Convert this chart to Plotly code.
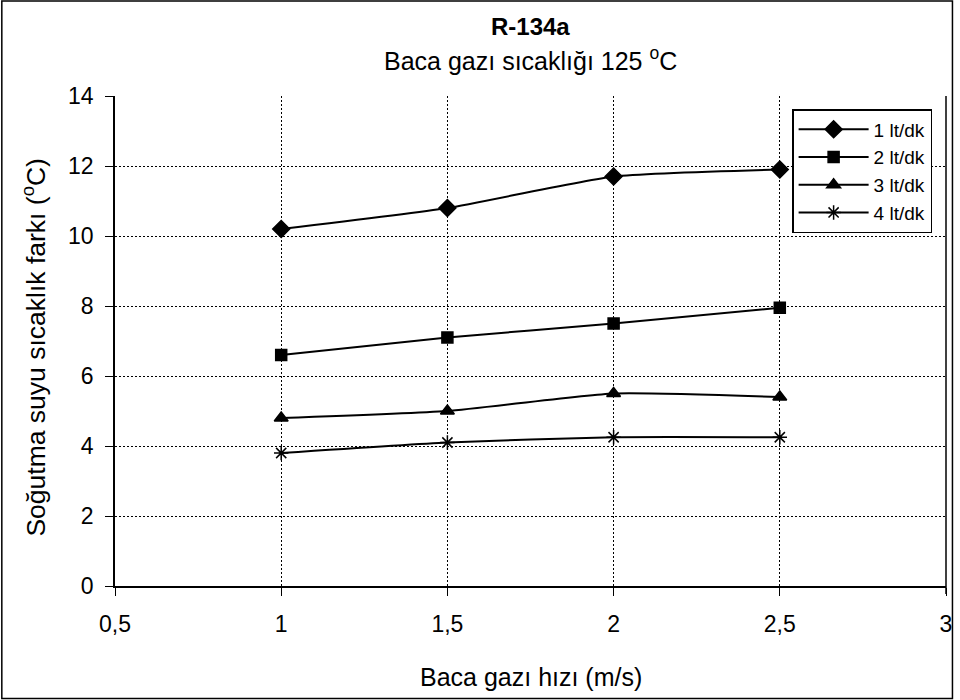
import plotly.graph_objects as go

x_vals = [1, 1.5, 2, 2.5]
s1 = [10.2, 10.8, 11.7, 11.9]
s2 = [6.6, 7.1, 7.5, 7.95]
s3 = [4.8, 5.0, 5.5, 5.4]
s4 = [3.8, 4.1, 4.25, 4.25]
names = ["1 lt/dk", "2 lt/dk", "3 lt/dk", "4 lt/dk"]
symbols = ["diamond", "square", "triangle-up", "asterisk"]
msizes = [13, 11, 12, 12]
series = [s1, s2, s3, s4]

x_ticks = [0.5, 1, 1.5, 2, 2.5, 3]
x_ticktext = ["0,5", "1", "1,5", "2", "2,5", "3"]
y_ticks = [0, 2, 4, 6, 8, 10, 12, 14]

FONT = "Liberation Sans, Arial, sans-serif"
W, H = 960, 700
L, R, T, B = 115, 8, 96, 114
pw, ph = W - L - R, H - T - B


def px_x(p):
    return (p - L) / pw


def px_y(p):
    return (H - B - p) / ph


fig = go.Figure()
for name, sym, ms, ys in zip(names, symbols, msizes, series):
    fig.add_trace(go.Scatter(
        x=x_vals, y=ys, name=name, mode="lines+markers",
        line=dict(color="black", width=2, shape="spline", smoothing=0.5),
        marker=dict(symbol=sym, size=ms, color="black",
                    line=dict(color="black", width=1.5)),
    ))

shapes = [
    dict(type="line", xref="paper", yref="paper", x0=1, x1=1, y0=0, y1=1,
         line=dict(color="black", width=1.5)),
    dict(type="line", xref="paper", yref="paper", x0=1, x1=1,
         y0=px_y(594), y1=0, line=dict(color="black", width=1.5)),
    dict(type="rect", xref="paper", yref="paper",
         x0=px_x(1), x1=px_x(958.5), y0=px_y(698.5), y1=px_y(1),
         line=dict(color="black", width=1.5)),
]

annotations = [
    dict(text="<b>R-134a</b>", xref="paper", yref="paper", x=0.5, y=px_y(26),
         xanchor="center", yanchor="middle", showarrow=False,
         font=dict(family=FONT, size=24, color="black")),
    dict(text="Baca gazı sıcaklığı 125 <sup>o</sup>C", xref="paper", yref="paper",
         x=0.5, y=px_y(59), xanchor="center", yanchor="middle", showarrow=False,
         font=dict(family=FONT, size=25, color="black")),
    dict(text="Baca gazı hızı (m/s)", xref="paper", yref="paper",
         x=0.5, y=px_y(677), xanchor="center", yanchor="middle", showarrow=False,
         font=dict(family=FONT, size=25, color="black")),
    dict(text="Soğutma suyu sıcaklık farkı (<sup>o</sup>C)", xref="paper", yref="paper",
         x=px_x(33), y=px_y(347), xanchor="center", yanchor="middle", showarrow=False,
         textangle=-90, font=dict(family=FONT, size=26.5, color="black")),
]

fig.update_layout(
    width=W, height=H,
    margin=dict(l=L, r=R, t=T, b=B),
    paper_bgcolor="white", plot_bgcolor="white",
    font=dict(family=FONT, size=23, color="black"),
    xaxis=dict(
        range=[0.5, 3], tickvals=x_ticks, ticktext=x_ticktext,
        showgrid=True, gridcolor="black", griddash="2px,2px", gridwidth=1,
        showline=True, linecolor="black", linewidth=1.5,
        ticks="outside", ticklen=8, tickcolor="black", tickwidth=1,
        zeroline=False, ticklabelstandoff=9,
        tickfont=dict(family=FONT, size=23, color="black"),
    ),
    yaxis=dict(
        range=[0, 14], tickvals=y_ticks,
        showgrid=True, gridcolor="black", griddash="2px,2px", gridwidth=1,
        showline=True, linecolor="black", linewidth=1.5,
        ticks="outside", ticklen=8, tickcolor="black", tickwidth=1,
        zeroline=False, ticklabelstandoff=7,
        tickfont=dict(family=FONT, size=23, color="black"),
    ),
    legend=dict(
        x=px_x(797), y=px_y(109), xanchor="left", yanchor="top",
        bordercolor="black", borderwidth=1.5, bgcolor="white",
        font=dict(family=FONT, size=19, color="black"),
        tracegroupgap=0, itemwidth=70,
    ),
    shapes=shapes,
    annotations=annotations,
)

fig.write_html("out.html")
